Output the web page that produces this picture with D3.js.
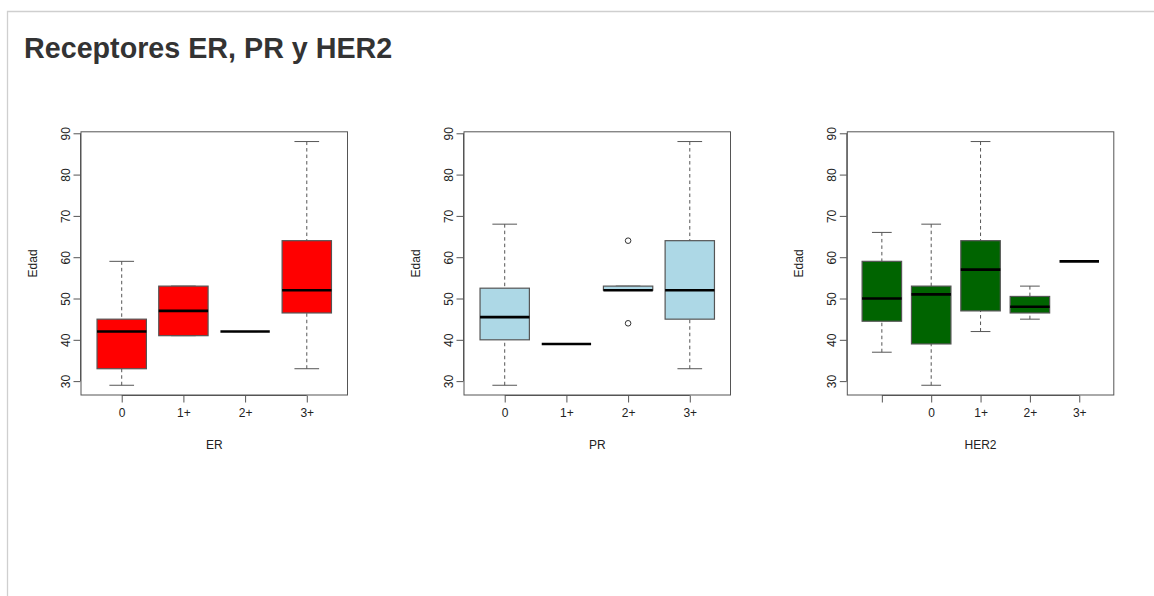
<!DOCTYPE html>
<html>
<head>
<meta charset="utf-8">
<script src="https://cdn.jsdelivr.net/npm/d3@7"></script>
<style>
  html, body { margin: 0; padding: 0; background: #fff; }
  svg { display: block; }
</style>
</head>
<body>
<svg id="chart" width="1154" height="596"></svg>
<script>
// ---- Data ----
const titleText = "Receptores ER, PR y HER2";
const yTicks = [30, 40, 50, 60, 70, 80, 90];
const yLabel = "Edad";

const erCategories = ["0", "1+", "2+", "3+"];
const erLow  = [29, 41, 42, 33];
const erQ1   = [33, 41, 42, 46.5];
const erMed  = [42, 47, 42, 52];
const erQ3   = [45, 53, 42, 64];
const erHigh = [59, 53, 42, 88];
const erOut  = [[], [], [], []];

const prCategories = ["0", "1+", "2+", "3+"];
const prLow  = [29, 39, 52, 33];
const prQ1   = [40, 39, 52, 45];
const prMed  = [45.5, 39, 52, 52];
const prQ3   = [52.5, 39, 53, 64];
const prHigh = [68, 39, 53, 88];
const prOut  = [[], [], [64, 44], []];

const herCategories = ["", "0", "1+", "2+", "3+"];
const herLow  = [37, 29, 42, 45, 59];
const herQ1   = [44.5, 39, 47, 46.5, 59];
const herMed  = [50, 51, 57, 48, 59];
const herQ3   = [59, 53, 64, 50.5, 59];
const herHigh = [66, 68, 88, 53, 59];
const herOut  = [[], [], [], [], []];

const panels = [
  { name: "ER",   cats: erCategories,  low: erLow,  q1: erQ1,  med: erMed,  q3: erQ3,  high: erHigh,  out: erOut,  fill: "#FF0000" },
  { name: "PR",   cats: prCategories,  low: prLow,  q1: prQ1,  med: prMed,  q3: prQ3,  high: prHigh,  out: prOut,  fill: "#ADD8E6" },
  { name: "HER2", cats: herCategories, low: herLow, q1: herQ1, med: herMed, q3: herQ3, high: herHigh, out: herOut, fill: "#006400" }
];

// ---- Layout ----
const svg = d3.select("#chart");
const W = 1154, H = 596;

// page frame (light border top & left)
svg.append("path")
  .attr("d", `M7.5,${H} L7.5,11.5 L${W},11.5`)
  .attr("fill", "none").attr("stroke", "#cfcfcf").attr("stroke-width", 1.3);

svg.append("text")
  .attr("x", 24).attr("y", 58)
  .attr("font-family", "'Helvetica Neue', Helvetica, Arial, 'Liberation Sans', sans-serif")
  .attr("font-weight", "bold").attr("font-size", 28.7)
  .attr("fill", "#333")
  .text(titleText);

const plotTop = 131.8, plotBottom = 395, plotW = 266.5;
const panelLefts = [81, 464, 847.3];
const lineCol = "#555";
const font = "Arial, 'Liberation Sans', Helvetica, sans-serif";

// shared y-range: data range expanded by 4%
const allVals = panels.flatMap(p => [...p.low, ...p.high, ...p.out.flat()]);
const yMin = d3.min(allVals), yMax = d3.max(allVals);
const yPad = (yMax - yMin) * 0.04;

panels.forEach((p, i) => {
  const left = panelLefts[i];
  const n = p.cats.length;
  const x = d3.scaleLinear().domain([0.5 - 0.04 * n, n + 0.5 + 0.04 * n]).range([left, left + plotW]);
  const y = d3.scaleLinear().domain([yMin - yPad, yMax + yPad]).range([plotBottom, plotTop]);
  const g = svg.append("g");

  // frame
  g.append("rect")
    .attr("x", left).attr("y", plotTop)
    .attr("width", plotW).attr("height", plotBottom - plotTop)
    .attr("fill", "none").attr("stroke", lineCol).attr("stroke-width", 1);

  // y axis (R-style: line from first to last tick)
  const yAxis = d3.axisLeft(y).tickValues(yTicks).tickSize(7).tickPadding(4).tickFormat(d3.format("d"));
  const ya = g.append("g").attr("transform", `translate(${left - 0.5},0)`).call(yAxis);
  ya.select(".domain").attr("d", `M0,${y(yTicks[0])}V${y(yTicks[yTicks.length - 1])}`).attr("stroke", lineCol);
  ya.selectAll(".tick line").attr("stroke", lineCol);
  ya.selectAll(".tick text")
    .attr("font-family", font).attr("font-size", 12).attr("fill", "#222")
    .attr("x", null).attr("dy", null)
    .attr("text-anchor", "middle")
    .attr("transform", "translate(-15,0) rotate(-90)")
    .attr("y", 0).attr("dy", "0.35em");

  // x axis
  const idx = d3.range(1, n + 1);
  const xAxis = d3.axisBottom(x).tickValues(idx).tickSize(7).tickPadding(6).tickFormat(d => p.cats[d - 1]);
  const xa = g.append("g").attr("transform", `translate(0,${plotBottom + 0.5})`).call(xAxis);
  xa.select(".domain").attr("d", `M${x(1)},0H${x(n)}`).attr("stroke", lineCol);
  xa.selectAll(".tick line").attr("stroke", lineCol);
  xa.selectAll(".tick text").attr("font-family", font).attr("font-size", 12).attr("fill", "#222");

  // axis titles
  g.append("text")
    .attr("x", left + plotW / 2).attr("y", 449)
    .attr("text-anchor", "middle")
    .attr("font-family", font).attr("font-size", 12).attr("fill", "#222")
    .text(p.name);
  g.append("text")
    .attr("transform", `translate(${left - 44},${(plotTop + plotBottom) / 2}) rotate(-90)`)
    .attr("text-anchor", "middle")
    .attr("font-family", font).attr("font-size", 12).attr("fill", "#222")
    .text(yLabel);

  const bw = x(1.4) - x(1);   // half box width (0.8 units)
  const sw = x(1.2) - x(1);   // half staple width

  idx.forEach((k, j) => {
    const cx = x(k);
    // whiskers (dashed)
    g.append("line").attr("x1", cx).attr("x2", cx).attr("y1", y(p.high[j])).attr("y2", y(p.q3[j]))
      .attr("stroke", lineCol).attr("stroke-dasharray", "3.5,3");
    g.append("line").attr("x1", cx).attr("x2", cx).attr("y1", y(p.low[j])).attr("y2", y(p.q1[j]))
      .attr("stroke", lineCol).attr("stroke-dasharray", "3.5,3");
    // staples
    [p.high[j], p.low[j]].forEach(v => {
      g.append("line").attr("x1", cx - sw).attr("x2", cx + sw).attr("y1", y(v)).attr("y2", y(v))
        .attr("stroke", lineCol).attr("stroke-width", 1);
    });
    // box
    g.append("rect")
      .attr("x", cx - bw).attr("y", y(p.q3[j]))
      .attr("width", 2 * bw).attr("height", Math.max(0, y(p.q1[j]) - y(p.q3[j])))
      .attr("fill", p.fill).attr("stroke", lineCol).attr("stroke-width", 1.2);
    // median
    g.append("line").attr("x1", cx - bw).attr("x2", cx + bw).attr("y1", y(p.med[j])).attr("y2", y(p.med[j]))
      .attr("stroke", "#000").attr("stroke-width", 2.6);
    // outliers
    p.out[j].forEach(v => {
      g.append("circle").attr("cx", cx).attr("cy", y(v)).attr("r", 2.8)
        .attr("fill", "none").attr("stroke", "#333").attr("stroke-width", 1);
    });
  });
});
</script>
</body>
</html>
